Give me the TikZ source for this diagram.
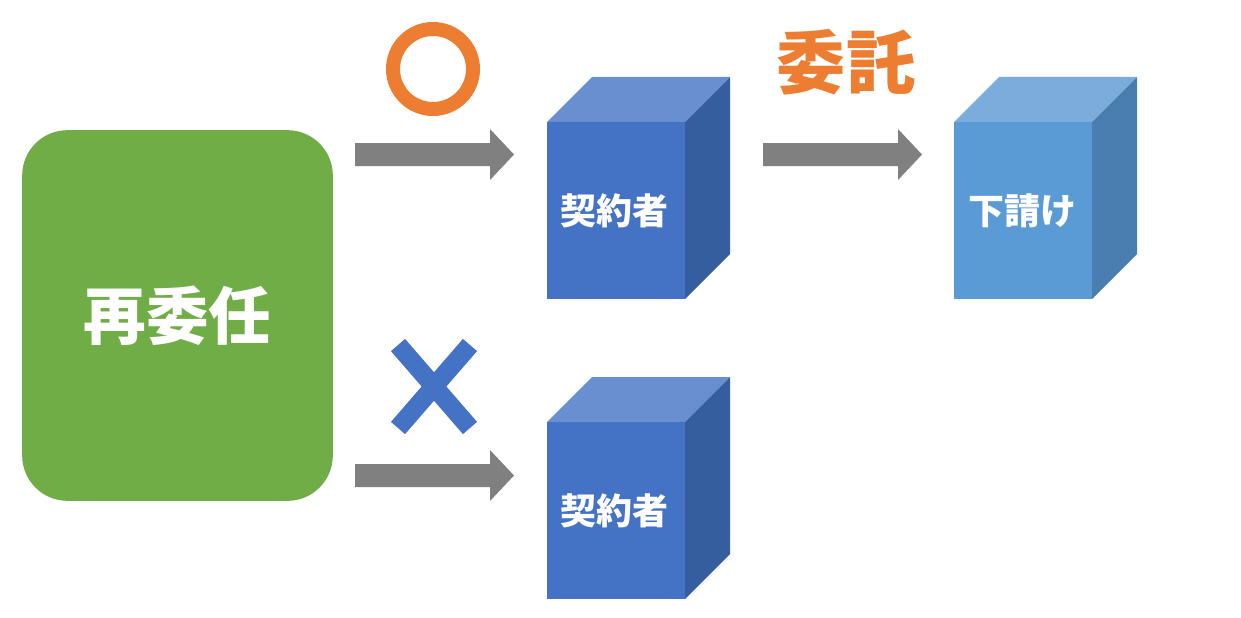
\documentclass[tikz,border=0pt]{standalone}
\usepackage{fontspec}
\newfontfamily\cjk{Noto Sans CJK JP}
\definecolor{grn}{HTML}{70AD47}
\definecolor{org}{HTML}{ED7D31}
\definecolor{bF}{HTML}{4472C4}
\definecolor{bT}{HTML}{6A8FD0}
\definecolor{bS}{HTML}{355E9E}
\definecolor{lF}{HTML}{5B9BD5}
\definecolor{lT}{HTML}{7BACDC}
\definecolor{lS}{HTML}{4A7EB0}
\definecolor{gry}{HTML}{808080}
\begin{document}
\begin{tikzpicture}[x=0.75pt,y=-0.75pt,
  arr/.style={fill=gry},
  lbl/.style={text=white,font=\cjk\bfseries\fontsize{27}{31}\selectfont}]
\useasboundingbox (0,0) rectangle (1241,617);
\newcommand{\mycube}[6]{% x y(top of front) front top side name
  \fill[#4] (#1,#2) -- (#1+45,#2-45) -- (#1+183,#2-45) -- (#1+138,#2) -- cycle;
  \fill[#5] (#1+138,#2) -- (#1+183,#2-45) -- (#1+183,#2+132) -- (#1+138,#2+177) -- cycle;
  \fill[#3] (#1,#2) rectangle (#1+138,#2+177);
  \node[lbl] (#6) at (#1+67,#2+89) {契約者};}
\node[fill=grn,rounded corners=34pt,minimum width=233pt,minimum height=278pt,inner sep=0,
  text=white,font=\cjk\bfseries\fontsize{47}{54}\selectfont] (re) at (177.5,315.5) {再委任};
\fill[arr] (355,143) -- (490,143) -- (490,129) -- (514,154.5) -- (490,180) -- (490,166) -- (355,166) -- cycle;
\fill[arr] (355,464) -- (490,464) -- (490,450) -- (514,475.5) -- (490,501) -- (490,487) -- (355,487) -- cycle;
\fill[arr] (763,143) -- (898,143) -- (898,129) -- (922,154.5) -- (898,180) -- (898,166) -- (763,166) -- cycle;
\draw[org,line width=10.5pt] (433,69) circle[radius=40];
\draw[bF,line width=14pt] (398,345) -- (470,428) (470,345) -- (398,428);
\node[text=org,font=\cjk\bfseries\fontsize{52}{60}\selectfont] (it) at (846,62) {委託};
\mycube{547}{122}{bF}{bT}{bS}{k1}
\mycube{547}{422}{bF}{bT}{bS}{k2}
\fill[lT] (954,122) -- (999,77) -- (1137,77) -- (1092,122) -- cycle;
\fill[lS] (1092,122) -- (1137,77) -- (1137,254) -- (1092,299) -- cycle;
\fill[lF] (954,122) rectangle (1092,299);
\node[lbl] (sh) at (1022,211) {下請け};
\end{tikzpicture}
\end{document}
